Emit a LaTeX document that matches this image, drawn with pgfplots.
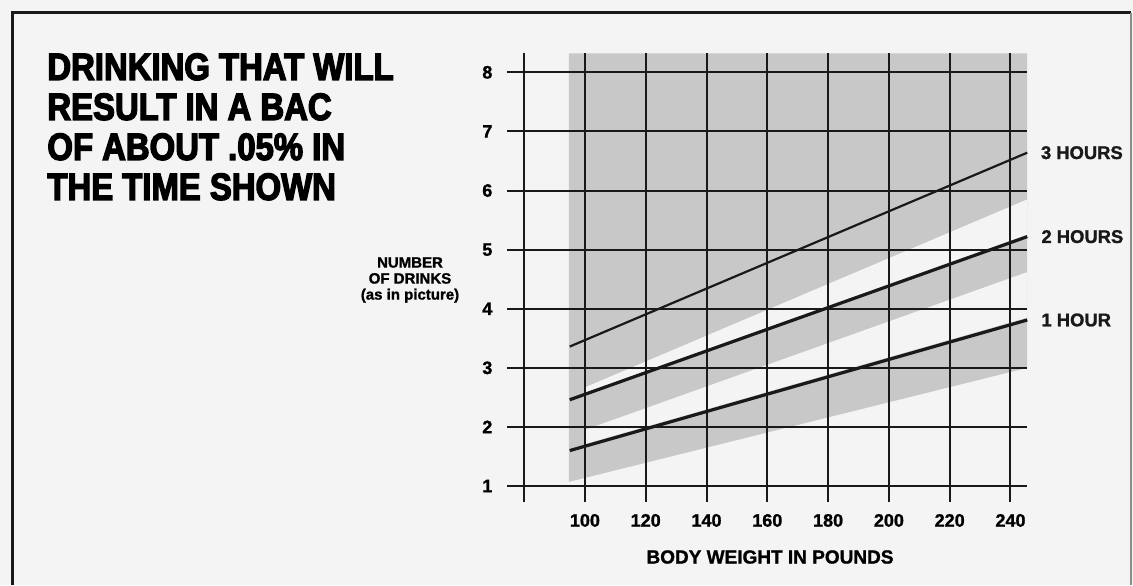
\documentclass[border=0pt]{standalone}
\usepackage{pgfplots}
\pgfplotsset{compat=1.18}
\usepackage{fontspec}
\setmainfont{Liberation Sans}
\newfontfamily\titlefont[FakeStretch=0.865,FakeBold=3.5]{Liberation Sans}
\newfontfamily\labelfont[FakeBold=1.2]{Liberation Sans}
\definecolor{bgc}{RGB}{244,244,244}
\definecolor{shade}{RGB}{200,200,200}
\definecolor{ink}{RGB}{25,25,25}
\begin{document}
\begin{tikzpicture}
\path[use as bounding box, fill=bgc] (0,0) rectangle (566.5pt,292.5pt);
\draw[line width=1.5pt, ink] (6pt,0) -- (6pt,286pt) -- (565.5pt,286pt);
\draw[line width=0.6pt, black!45] (565.5pt,286pt) -- (565.5pt,0);
\node[anchor=north west, inner sep=0pt, align=left, font=\titlefont\bfseries\fontsize{19}{20}\selectfont] at (23.5pt,266pt) {DRINKING THAT WILL\\RESULT IN A BAC\\OF ABOUT .05\% IN\\THE TIME SHOWN};
\node[align=center, inner sep=0pt, font=\labelfont\bfseries\fontsize{7.5}{8}\selectfont] at (205pt,152.5pt) {NUMBER\\OF DRINKS\\(as in picture)};
\node[inner sep=0pt, font=\labelfont\bfseries\fontsize{9.5}{11}\selectfont] at (385pt,14pt) {BODY WEIGHT IN POUNDS};
\begin{axis}[
  at={(253.7pt,41.5pt)}, anchor=south west,
  scale only axis, width=259.9pt, height=224.3pt,
  xmin=74.5, xmax=245.5, ymin=0.73, ymax=8.32,
  axis line style={draw=none},
  major tick length=0pt,
  tick style={draw=none},
  xtick={80,100,120,140,160,180,200,220,240},
  xticklabels={{},100,120,140,160,180,200,220,240},
  ytick={1,2,3,4,5,6,7,8},
  grid=major,
  major grid style={ink, line width=1pt},
  tick label style={font=\labelfont\bfseries\fontsize{9}{10}\selectfont},
  xticklabel style={yshift=-2.5pt},
  yticklabel style={xshift=-4pt},
  /pgf/number format/assume math mode=true,
  axis on top,
  clip=false,
]
% grey shading region
\addplot[draw=none, fill=shade] coordinates {(94.7,1.07) (245.5,3.0) (245.5,8.32) (94.7,8.32)};
% white band between 3-hour and 2-hour bands
\addplot[draw=none, fill=bgc] coordinates {(100,2.58) (245.5,5.25) (245.5,5.85) (100,2.67)};
% white band between 2-hour and 1-hour bands
\addplot[draw=none, fill=bgc] coordinates {(100,1.71) (245.5,3.85) (245.5,4.62) (100,1.95)};
% lines
\addplot[ink, line width=1.1pt] coordinates {(95,3.36) (245.5,6.64)}
  node[pos=1, anchor=west, xshift=3pt, font=\labelfont\bfseries\fontsize{9.2}{11}\selectfont] {3 HOURS};
\addplot[ink, line width=1.6pt] coordinates {(95,2.46) (245.5,5.22)}
  node[pos=1, anchor=west, xshift=3pt, font=\labelfont\bfseries\fontsize{9.2}{11}\selectfont] {2 HOURS};
\addplot[ink, line width=1.6pt] coordinates {(95,1.60) (245.5,3.81)}
  node[pos=1, anchor=west, xshift=3pt, font=\labelfont\bfseries\fontsize{9.2}{11}\selectfont] {1 HOUR};
\end{axis}
\end{tikzpicture}
\end{document}
